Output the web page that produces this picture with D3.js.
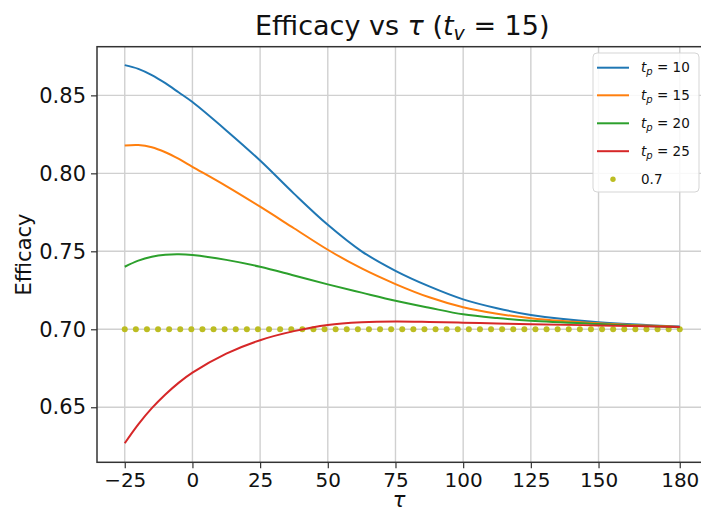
<!DOCTYPE html>
<html>
<head>
<meta charset="utf-8">
<script src="https://cdn.jsdelivr.net/npm/d3@7"></script>
<style>
  html, body { margin: 0; padding: 0; background: #fff; }
  svg { display: block; font-family: "DejaVu Sans", sans-serif; }
</style>
</head>
<body>
<svg id="chart" width="701" height="510"></svg>
<script>
// ---- data ----
const taus = [-25, -20, -15, -10, -5, 0, 12.5, 25, 37.5, 50, 62.5, 75, 87.5, 100, 112.5, 125, 150, 180];
const tp10 = [0.8694, 0.8670, 0.8630, 0.8578, 0.8518, 0.8457, 0.8275, 0.8082, 0.7870, 0.7670, 0.7500, 0.7375, 0.7275, 0.7192, 0.7135, 0.7092, 0.7045, 0.7018];
const tp15 = [0.8178, 0.8181, 0.8167, 0.8135, 0.8092, 0.8042, 0.7918, 0.7786, 0.7648, 0.7510, 0.7390, 0.7290, 0.7205, 0.7141, 0.7100, 0.7071, 0.7038, 0.7015];
const tp20 = [0.7401, 0.7440, 0.7465, 0.7478, 0.7481, 0.7476, 0.7445, 0.7401, 0.7345, 0.7288, 0.7235, 0.7183, 0.7138, 0.7096, 0.7072, 0.7055, 0.7034, 0.7013];
const tp25 = [0.6269, 0.6390, 0.6494, 0.6582, 0.6658, 0.6722, 0.6844, 0.6930, 0.6988, 0.7028, 0.7045, 0.7050, 0.7047, 0.7042, 0.7037, 0.7032, 0.7025, 0.7015];
const refX = [-25, -20.9, -16.8, -12.7, -8.6, -4.5, -0.4, 3.7, 7.8, 11.9, 16, 20.1, 24.2, 28.3, 32.4, 36.5, 40.6, 44.7, 48.8, 52.9, 57, 61.1, 65.2, 69.3, 73.4, 77.5, 81.6, 85.7, 89.8, 93.9, 98, 102.1, 106.2, 110.3, 114.4, 118.5, 122.6, 126.7, 130.8, 134.9, 139, 143.1, 147.2, 151.3, 155.4, 159.5, 163.6, 167.7, 171.8, 175.9, 180];
const refValue = 0.7;
const seriesNames = ["10", "15", "20", "25"];
const seriesColors = ["#1f77b4", "#ff7f0e", "#2ca02c", "#d62728"];
const xTicks = [-25, 0, 25, 50, 75, 100, 125, 150, 180];
const yTicks = [0.65, 0.70, 0.75, 0.80, 0.85];

const series = [tp10, tp15, tp20, tp25];

// ---- layout ----
const L = 97, R = 707.5, T = 46.7, B = 462.3;
const svg = d3.select("#chart");

const x = d3.scaleLinear().domain([-35.25, 190.25]).range([L, R]);
const y = d3.scaleLinear().domain([0.6147, 0.8812]).range([B, T]);

// grid
const grid = svg.append("g");
grid.selectAll("line.vx").data(xTicks).enter().append("line")
  .attr("x1", d => x(d)).attr("x2", d => x(d)).attr("y1", T).attr("y2", B)
  .attr("stroke", "#d0d0d0").attr("stroke-width", 1.4);
grid.selectAll("line.hy").data(yTicks).enter().append("line")
  .attr("x1", L).attr("x2", R).attr("y1", d => y(d)).attr("y2", d => y(d))
  .attr("stroke", "#d0d0d0").attr("stroke-width", 1.4);

// reference dots
svg.append("g").selectAll("circle").data(refX).enter().append("circle")
  .attr("cx", d => x(d)).attr("cy", y(refValue)).attr("r", 3)
  .attr("fill", "#bcbd22");

// lines
const line = d3.line().x((d, i) => x(taus[i])).y(d => y(d)).curve(d3.curveCatmullRom.alpha(0.5));
series.forEach((s, k) => {
  svg.append("path").datum(s).attr("d", line)
    .attr("fill", "none").attr("stroke", seriesColors[k]).attr("stroke-width", 2);
});

// frame
svg.append("rect").attr("x", L).attr("y", T).attr("width", R - L).attr("height", B - T)
  .attr("fill", "none").attr("stroke", "#333").attr("stroke-width", 1.5);

// axes
const xAxis = d3.axisBottom(x).tickValues(xTicks).tickSize(6).tickPadding(5)
  .tickFormat(d => d < 0 ? "\u2212" + Math.abs(d) : String(d));
const gx = svg.append("g").attr("transform", `translate(0,${B})`).call(xAxis);
gx.select(".domain").remove();
gx.selectAll(".tick line").attr("stroke", "#333").attr("stroke-width", 1.2);
gx.selectAll(".tick text").attr("font-size", 20).attr("fill", "#111")
  .attr("font-family", "DejaVu Sans");

const yAxis = d3.axisLeft(y).tickValues(yTicks).tickSize(6).tickPadding(5)
  .tickFormat(d3.format(".2f"));
const gy = svg.append("g").attr("transform", `translate(${L},0)`).call(yAxis);
gy.select(".domain").remove();
gy.selectAll(".tick line").attr("stroke", "#333").attr("stroke-width", 1.2);
gy.selectAll(".tick text").attr("font-size", 21).attr("fill", "#111")
  .attr("font-family", "DejaVu Sans");

// title
const title = svg.append("text").attr("x", (L + R) / 2).attr("y", 35)
  .attr("text-anchor", "middle").attr("font-size", 27).attr("fill", "#111");
title.append("tspan").text("Efficacy vs ");
title.append("tspan").attr("font-style", "italic").text("\u03c4");
title.append("tspan").text(" (");
title.append("tspan").attr("font-style", "italic").text("t");
title.append("tspan").attr("font-style", "italic").attr("font-size", 19).attr("dy", 5).text("v");
title.append("tspan").attr("dy", -5).text(" = 15)");

// axis labels
svg.append("text").attr("transform", `translate(31,${(T + B) / 2}) rotate(-90)`)
  .attr("text-anchor", "middle").attr("font-size", 21).attr("fill", "#111").text("Efficacy");
svg.append("text").attr("x", 399).attr("y", 507)
  .attr("text-anchor", "middle").attr("font-size", 21).attr("font-style", "italic")
  .attr("fill", "#111").text("\u03c4");

// legend
const lg = svg.append("g");
lg.append("rect").attr("x", 593).attr("y", 53).attr("width", 106).attr("height", 139)
  .attr("rx", 4).attr("fill", "#fff").attr("fill-opacity", 0.85)
  .attr("stroke", "#d5d5d5").attr("stroke-width", 1);
const rowY = [67.7, 95.3, 123.3, 151.2, 179.3];
seriesNames.forEach((nm, k) => {
  lg.append("line").attr("x1", 597).attr("x2", 629).attr("y1", rowY[k]).attr("y2", rowY[k])
    .attr("stroke", seriesColors[k]).attr("stroke-width", 2);
  const t = lg.append("text").attr("x", 641).attr("y", rowY[k] + 4.5)
    .attr("font-size", 13.5).attr("fill", "#111");
  t.append("tspan").attr("font-style", "italic").text("t");
  t.append("tspan").attr("font-style", "italic").attr("font-size", 10).attr("dy", 3).text("p");
  t.append("tspan").attr("dy", -3).text(" = " + nm);
});
lg.append("circle").attr("cx", 613).attr("cy", rowY[4]).attr("r", 2.7).attr("fill", "#bcbd22");
lg.append("text").attr("x", 641).attr("y", rowY[4] + 4.5).attr("font-size", 13.5)
  .attr("fill", "#111").text(String(refValue));
</script>
</body>
</html>
